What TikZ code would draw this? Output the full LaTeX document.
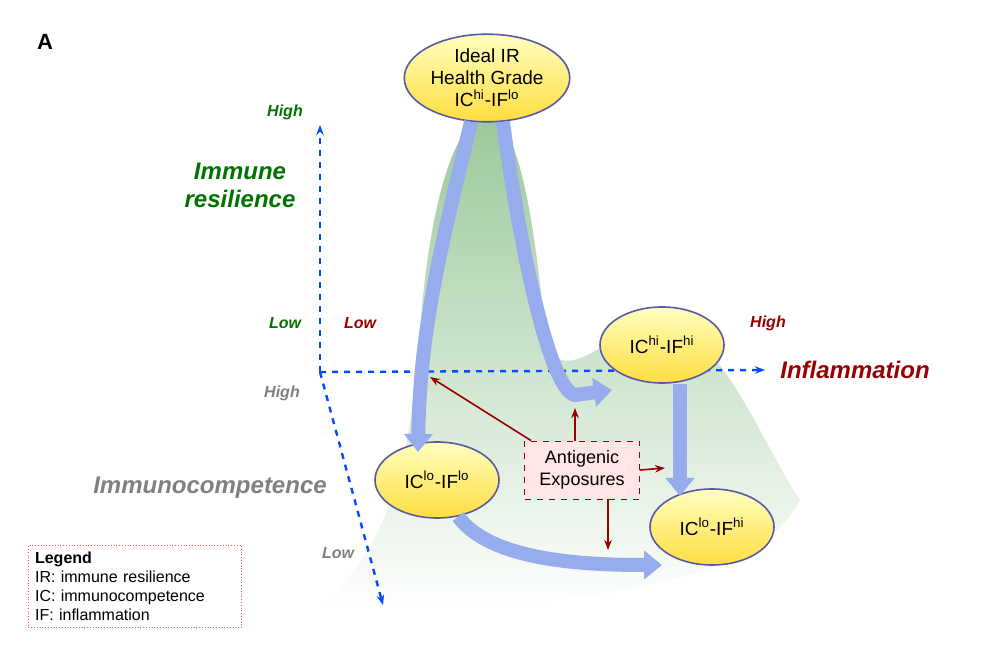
\documentclass[tikz,border=0pt]{standalone}
\usepackage{fontspec}
\setmainfont{Liberation Sans}
\usetikzlibrary{arrows.meta,shapes.geometric}
\definecolor{flowblue}{RGB}{150,172,236}

\tikzset{
  state/.style={ellipse,draw=blue!30!gray,thick,top color=yellow!25,bottom color=orange!35!yellow!75,
    inner sep=1pt,minimum width=124\pxu,minimum height=76\pxu,align=center,font=\fontsize{9.5}{11}\selectfont},
  axis/.style={blue!70!cyan,dashed,line width=1.2pt,-{Stealth[length=5pt]}},
  flow/.style={flowblue,line width=7pt,-{Triangle[length=9pt,width=14pt]}},
  expo/.style={red!60!black,thick,-{Stealth[length=5pt]}},
  lab/.style={font=\bfseries\itshape\fontsize{8}{9}\selectfont},
  big/.style={font=\bfseries\itshape\fontsize{12}{14}\selectfont}
}
\newlength{\pxu}\setlength{\pxu}{0.5pt}

\begin{document}
\begin{tikzpicture}[x=0.5pt,y=-0.5pt]
\useasboundingbox (0,0) rectangle (994,672);

% mountain
\shade[top color=green!45!black!60,bottom color=white,opacity=0.65]
  (320,610) .. controls (390,540) and (410,470) .. (420,330)
  .. controls (430,200) and (455,120) .. (487,115)
  .. controls (520,120) and (535,230) .. (545,330)
  .. controls (555,400) and (610,330) .. (660,320)
  .. controls (720,330) and (760,440) .. (800,500)
  .. controls (760,580) and (600,610) .. (320,610) -- cycle;

\node[font=\bfseries\fontsize{11}{12}\selectfont] (A) at (45,42) {A};

% axes
\coordinate (O) at (320,372);
\coordinate (vtop) at (320,125);
\coordinate (hend) at (765,370);
\coordinate (dend) at (383,605);
\draw[axis] (O) -- (vtop);
\draw[axis] (O) -- (hend);
\draw[axis] (O) -- (dend);

\node[lab,green!45!black] (vhigh) at (285,112) {High};
\node[big,green!45!black,align=center] (vname) at (240,185) {Immune\\resilience};
\node[lab,green!45!black] (vlow) at (285,323) {Low};
\node[lab,red!60!black] (hlow) at (360,323) {Low};
\node[lab,red!60!black] (hhigh) at (768,323) {High};
\node[big,red!60!black] (hname) at (855,370) {Inflammation};
\node[lab,gray] (dhigh) at (282,393) {High};
\node[big,gray] (dname) at (210,488) {Immunocompetence};
\node[lab,gray] (dlow) at (338,553) {Low};

% states
\node[state] (top) at (487,78) {Ideal IR\\Health Grade\\IC\textsuperscript{hi}-IF\textsuperscript{lo}};
\node[state] (hh) at (662,345) {IC\textsuperscript{hi}-IF\textsuperscript{hi}};
\node[state] (ll) at (437,480) {IC\textsuperscript{lo}-IF\textsuperscript{lo}};
\node[state] (lh) at (712,527) {IC\textsuperscript{lo}-IF\textsuperscript{hi}};

% flows
\coordinate (f1) at (418,452);
\coordinate (f2) at (612,390);
\coordinate (f3) at (680,496);
\coordinate (f4) at (662,565);
\draw[flow] (top.250) .. controls (440,250) and (420,330) .. (f1);
\draw[flow] (top.290) .. controls (520,250) and (550,390) .. (575,395) -- (f2);
\draw[flow] (hh.south -| f3) -- (f3);
\draw[flow] (ll.300) .. controls (490,560) and (580,565) .. (f4);

% exposures
\node[draw=red!60!black,dashed,fill=red!10,align=center,minimum width=115\pxu,minimum height=58\pxu,
  font=\fontsize{9}{11}\selectfont] (ae) at (582,470) {Antigenic\\Exposures};
\coordinate (t1) at (430,377);
\coordinate (t2) at (575,408);
\coordinate (t3) at (665,468);
\coordinate (t4) at (608,550);
\draw[expo] (ae.150) -- (t1);
\draw[expo] (ae.north -| t2) -- (t2);
\draw[expo] (ae.east) -- (t3);
\draw[expo] (ae.south -| t4) -- (t4);

% legend
\node[draw=red!70,densely dotted,fill=white,align=left,anchor=north west,text width=200\pxu,
  font=\fontsize{8}{9.5}\selectfont] (leg) at (28,545)
  {\textbf{Legend}\\IR: immune resilience\\IC: immunocompetence\\IF: inflammation};
\end{tikzpicture}
\end{document}
